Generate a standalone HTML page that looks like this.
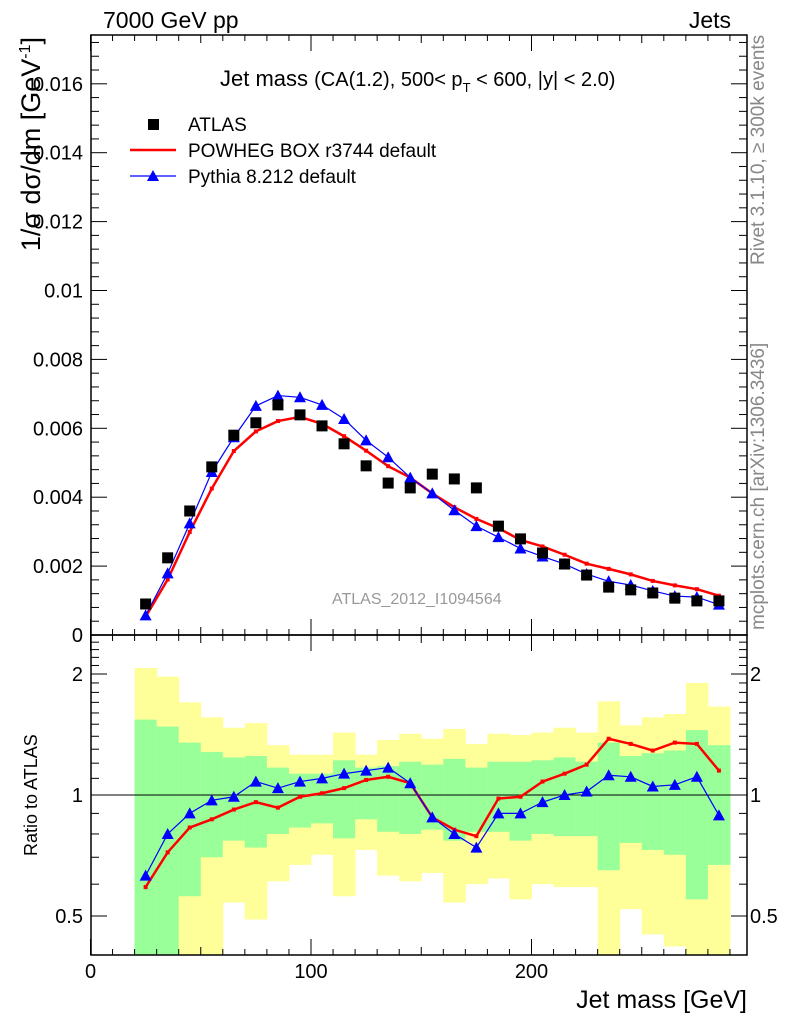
<!DOCTYPE html>
<html><head><meta charset="utf-8"><style>
body{margin:0;background:#fff;}
svg{display:block;font-family:"Liberation Sans",Arial,sans-serif;}
</style></head><body>
<svg id="c" width="786" height="1024" viewBox="0 0 786 1024"></svg>
<script>
const centers=[25,35,45,55,65,75,85,95,105,115,125,135,145,155,165,175,185,195,205,215,225,235,245,255,265,275,285];
const atlas=[.0009,.00224,.0036,.00488,.0058,.00616,.00668,.00639,.00607,.00555,.00491,.00441,.00427,.00467,.00453,.00427,.00316,.00279,.00238,.00206,.00174,.00139,.00131,.00122,.00107,.00099,.00099];
const powheg=[.00053,.00161,.00299,.00425,.00534,.00591,.00621,.00633,.00613,.00577,.00535,.0049,.00457,.00411,.00371,.00337,.0031,.00276,.00257,.00233,.00207,.00192,.00176,.00157,.00144,.00133,.00114];
const pythia=[.00057,.00179,.00324,.00473,.00574,.00665,.00695,.0069,.00668,.00627,.00565,.00516,.00457,.00411,.00362,.00316,.00284,.00251,.00228,.00206,.00177,.00156,.00145,.00128,.00113,.0011,.00088];
const ratioPowheg=[.59,.72,.83,.87,.92,.96,.93,.99,1.01,1.04,1.09,1.11,1.07,.88,.82,.79,.98,.99,1.08,1.13,1.19,1.38,1.34,1.29,1.35,1.34,1.15];
const ratioPythia=[.63,.80,.90,.97,.99,1.08,1.04,1.08,1.10,1.13,1.15,1.17,1.07,.88,.80,.74,.90,.90,.96,1.00,1.02,1.12,1.11,1.05,1.06,1.11,.89];
const yellowTop=[2.07,1.97,1.70,1.56,1.47,1.51,1.33,1.26,1.26,1.43,1.26,1.37,1.42,1.38,1.46,1.34,1.42,1.41,1.43,1.47,1.43,1.71,1.49,1.56,1.59,1.90,1.66];
const greenTop=[1.54,1.48,1.35,1.28,1.24,1.25,1.17,1.13,1.13,1.22,1.17,1.18,1.21,1.19,1.23,1.17,1.21,1.21,1.22,1.24,1.21,1.35,1.25,1.27,1.29,1.45,1.33];
const greenBot=[0.3,0.3,0.56,0.70,0.77,0.74,0.80,0.83,0.85,0.78,0.87,0.81,0.80,0.82,0.77,0.81,0.81,0.77,0.80,0.79,0.79,0.65,0.76,0.73,0.71,0.55,0.67];
const yellowBot=[0.3,0.3,0.3,0.40,0.54,0.49,0.61,0.67,0.71,0.56,0.73,0.63,0.61,0.64,0.54,0.60,0.62,0.55,0.60,0.59,0.59,0.3,0.52,0.45,0.42,0.3,0.3];
const yTicks=[0,0.002,0.004,0.006,0.008,0.01,0.012,0.014,0.016];
const yTickLabels=["0","0.002","0.004","0.006","0.008","0.01","0.012","0.014","0.016"];
const xTicks=[0,100,200];
const rTicks=[0.5,1,2];
const rTickLabels=["0.5","1","2"];

const L=91,R=747,T=35,MB=635,RB=955;
const X=v=>90.5+v*2.205;
const Y=v=>635-v*34.45e3;
const RY=v=>{const y=795-121*Math.log2(v);return Math.max(635,Math.min(955,y));};
const svg=document.getElementById('c');
const NS='http://www.w3.org/2000/svg';
function mk(t,a,p){const e=document.createElementNS(NS,t);for(const k in a)e.setAttribute(k,a[k]);(p||svg).appendChild(e);return e;}
function txt(s,a){const e=mk('text',a);e.textContent=s;return e;}

centers.forEach((c,i)=>{
  const x0=X(c-5),x1=X(c+5);
  const yb=mk('rect',{x:x0,y:RY(yellowTop[i]),width:x1-x0+0.5,height:RY(yellowBot[i])-RY(yellowTop[i]),fill:'#ffff99'});
  
  
  const gb=mk('rect',{x:x0,y:RY(greenTop[i]),width:x1-x0+0.5,height:RY(greenBot[i])-RY(greenTop[i]),fill:'#99ff99'});
  
  
});
const one=mk('line',{x1:L,x2:R,y1:RY(1),y2:RY(1),stroke:'#000','stroke-width':1});



const f1=mk('rect',{x:L,y:T,width:R-L,height:MB-T,fill:'none',stroke:'#000','stroke-width':1.5});


const f2=mk('rect',{x:L,y:MB,width:R-L,height:RB-MB,fill:'none',stroke:'#000','stroke-width':1.5});



for(let v=0;v<=295;v+=10){
  const x=X(v);const big=v%100===0;const mid=v%50===0;const len=big?16:(mid?8:6);
  [[MB,-1],[T,1],[RB,-1],[MB,1]].forEach(([y0,d])=>mk('line',{x1:x,x2:x,y1:y0,y2:y0+d*len,stroke:'#000','stroke-width':1}));
}
xTicks.forEach(v=>{const t=txt(String(v),{x:X(v),y:978,'font-size':20,'text-anchor':'middle'});

});
for(let i=0;i<=43;i++){const v=i*0.0004;const y=Y(v);if(y<T)break;const big=i%5===0;const len=big?16:8;
  mk('line',{x1:L,x2:L+len,y1:y,y2:y,stroke:'#000'});mk('line',{x1:R,x2:R-len,y1:y,y2:y,stroke:'#000'});}
yTicks.forEach((v,i)=>{const t=txt(yTickLabels[i],{x:83,y:Y(v)+7,'font-size':20,'text-anchor':'end'});

});
[0.4,0.5,0.6,0.7,0.8,0.9,1,1.1,1.2,1.3,1.4,1.5,1.6,1.7,1.8,1.9,2,2.1,2.2,2.3,2.4,2.5].forEach(v=>{
  const y=795-121*Math.log2(v);if(y<MB||y>RB)return;const big=(v===0.5||v===1||v===2);const len=big?16:8;
  mk('line',{x1:L,x2:L+len,y1:y,y2:y,stroke:'#000'});mk('line',{x1:R,x2:R-len,y1:y,y2:y,stroke:'#000'});});
rTicks.forEach((v,i)=>{const y=795-121*Math.log2(v)+7;
 const a=txt(rTickLabels[i],{x:83,y:y,'font-size':20,'text-anchor':'end'});
 
 
 const b=txt(rTickLabels[i],{x:750,y:y,'font-size':20});
 
 });

function poly(vals,yf,color,w,name){const p=mk('polyline',{points:centers.map((c,i)=>X(c)+','+yf(vals[i])).join(' '),fill:'none',stroke:color,'stroke-width':w});

}
poly(powheg,Y,'#ff0000',2.5,'powheg-line');
centers.forEach((c,i)=>{const r=mk('rect',{x:X(c)-2,y:Y(powheg[i])-2,width:4,height:4,fill:'#ff0000'});

});
poly(pythia,Y,'#0000ff',1.2,'pythia-line');
function tri(x,y,name){const p=mk('polygon',{points:`${x},${y-6} ${x-6},${y+5} ${x+6},${y+5}`,fill:'#0000ff'});

}
centers.forEach((c,i)=>tri(X(c),Y(pythia[i]),'pythia-point'));
centers.forEach((c,i)=>{const r=mk('rect',{x:X(c)-5.5,y:Y(atlas[i])-5.5,width:11,height:11,fill:'#000'});

});

poly(ratioPowheg,RY,'#ff0000',2.5,'ratio-powheg-line');
centers.forEach((c,i)=>{const r=mk('rect',{x:X(c)-2,y:RY(ratioPowheg[i])-2,width:4,height:4,fill:'#ff0000'});

});
poly(ratioPythia,RY,'#0000ff',1.2,'ratio-pythia-line');
centers.forEach((c,i)=>tri(X(c),RY(ratioPythia[i]),'ratio-pythia-point'));
</script>
<svg width="786" height="1024" style="position:absolute;left:0;top:0" font-family="Liberation Sans, Arial, sans-serif">
<text x="103" y="28" font-size="23">7000 GeV pp</text>
<text x="731" y="28" font-size="23" text-anchor="end">Jets</text>
<text x="220" y="86" font-size="22">Jet mass <tspan font-size="20">(CA(1.2), 500&lt; p</tspan><tspan font-size="13" dy="6">T</tspan><tspan font-size="20" dy="-6"> &lt; 600, |y| &lt; 2.0)</tspan></text>
<rect x="148" y="119" width="11" height="11" fill="#000"/>
<text x="188" y="131" font-size="19">ATLAS</text>
<line x1="130" x2="176" y1="150" y2="150" stroke="#f00" stroke-width="2.5"/>
<text x="188" y="157" font-size="19">POWHEG BOX r3744 default</text>
<line x1="130" x2="176" y1="176" y2="176" stroke="#00f" stroke-width="1.2"/>
<polygon points="153,170 147,181 159,181" fill="#00f"/>
<text x="188" y="183" font-size="19">Pythia 8.212 default</text>
<text x="332" y="604" font-size="16" fill="#999">ATLAS_2012_I1094564</text>
<text transform="translate(40,37) rotate(-90)" font-size="27" text-anchor="end">1/σ dσ/dm [GeV<tspan font-size="16" dy="-10">-1</tspan><tspan dy="10">]</tspan></text>
<text transform="translate(37,856) rotate(-90)" font-size="18">Ratio to ATLAS</text>
<text x="747" y="1008" font-size="25" text-anchor="end">Jet mass [GeV]</text>
<text transform="translate(764,265) rotate(-90)" font-size="19" fill="#888">Rivet 3.1.10, ≥ 300k events</text>
<text transform="translate(764,630) rotate(-90)" font-size="19" fill="#888">mcplots.cern.ch [arXiv:1306.3436]</text>
</svg>
</body></html>
